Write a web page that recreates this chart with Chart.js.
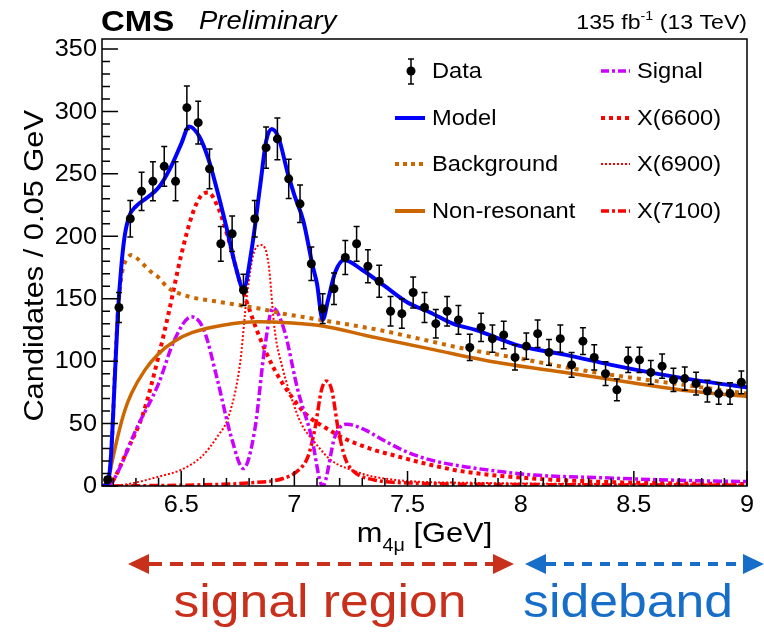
<!DOCTYPE html>
<html>
<head>
<meta charset="utf-8">
<script src="https://cdn.jsdelivr.net/npm/chart.js@4.4.1/dist/chart.umd.min.js"></script>
<style>
  html, body { margin: 0; padding: 0; background: #fff; }
  canvas { display: block; }
</style>
</head>
<body>
<canvas id="c" width="764" height="633"></canvas>
<script>
// four-muon invariant mass, 0.05 GeV bins
const binCenters = [6.175, 6.225, 6.275, 6.325, 6.375, 6.425, 6.475, 6.525, 6.575, 6.625,
  6.675, 6.725, 6.775, 6.825, 6.875, 6.925, 6.975, 7.025, 7.075, 7.125,
  7.175, 7.225, 7.275, 7.325, 7.375, 7.425, 7.475, 7.525, 7.575, 7.625,
  7.675, 7.725, 7.775, 7.825, 7.875, 7.925, 7.975, 8.025, 8.075, 8.125,
  8.175, 8.225, 8.275, 8.325, 8.375, 8.425, 8.475, 8.525, 8.575, 8.625,
  8.675, 8.725, 8.775, 8.825, 8.875, 8.925, 8.975];
const counts = [5, 143, 214, 236, 244, 256, 244, 303, 291, 254,
  194, 202, 157, 214, 271, 278, 246, 226, 178, 142,
  158, 183, 194, 176, 164, 140, 138, 155, 143, 130,
  140, 133, 111, 127, 118, 121, 103, 112, 122, 107,
  118, 97, 116, 103, 90, 77, 101, 101, 91, 96,
  85, 86, 82, 76, 74, 74, 83];

// fit curves
const modelMass = [6.15, 6.175, 6.19, 6.205, 6.22, 6.235, 6.25, 6.27, 6.30, 6.35, 6.40, 6.45, 6.50, 6.535,
  6.58, 6.62, 6.66, 6.70, 6.74, 6.775, 6.81, 6.85, 6.875, 6.90, 6.93, 6.97, 7.00, 7.04, 7.08, 7.10,
  7.125, 7.15, 7.18, 7.22, 7.30, 7.40, 7.50, 7.60, 7.70, 7.80, 8.00, 8.20, 8.40, 8.60, 8.80, 9.00];
const modelCount = [0, 2, 25, 80, 138, 175, 200, 216, 224, 231, 239, 254, 274, 288,
  280, 262, 236, 207, 176, 158, 188, 242, 276, 286, 279, 251, 233, 212, 177, 162,
  133, 150, 171, 181, 173, 160, 147, 139, 130, 125, 112, 105, 97, 90, 84, 79];

const bkgMass = [6.16, 6.18, 6.195, 6.21, 6.225, 6.24, 6.26, 6.28, 6.30, 6.33, 6.37, 6.40, 6.44, 6.48,
  6.55, 6.65, 6.75, 6.85, 6.95, 7.05, 7.15, 7.25, 7.40, 7.55, 7.75, 8.00, 8.20, 8.40, 8.60, 8.80, 9.00];
const bkgCount = [0, 3, 40, 105, 150, 172, 182, 185, 183, 178, 171, 167, 159, 155,
  151, 148, 145, 142, 138, 135, 132, 129, 124, 118, 110, 102, 95, 89, 84, 79, 74];

const nonResMass = [6.16, 6.18, 6.20, 6.22, 6.25, 6.28, 6.34, 6.40, 6.47, 6.55, 6.69, 6.84, 6.99,
  7.13, 7.33, 7.62, 7.91, 8.21, 8.50, 8.75, 9.00];
const nonResCount = [0, 8, 24, 40, 60, 74, 93, 106, 116, 123, 129, 131.5, 130.5,
  128, 120, 109, 98.5, 90.5, 82.5, 76, 71.7];

const signalMass = [6.17, 6.19, 6.23, 6.30, 6.40, 6.47, 6.545, 6.60, 6.66, 6.72, 6.775, 6.825, 6.87,
  6.905, 6.955, 7.015, 7.075, 7.125, 7.18, 7.23, 7.30, 7.40, 7.50, 7.62, 7.77, 8.06, 8.35, 8.65, 9.00];
const signalCount = [0, 2, 15, 45, 82, 117, 135.5, 125, 85, 40, 14, 45, 112,
  142.5, 125, 77, 40, 0, 40, 49.5, 46, 36, 27, 20, 15, 8.8, 6.7, 4.8, 3.5];

const x6600Mass = [6.17, 6.19, 6.21, 6.26, 6.33, 6.40, 6.445, 6.50, 6.55, 6.59, 6.62, 6.665, 6.71,
  6.755, 6.80, 6.84, 6.91, 6.99, 7.06, 7.13, 7.21, 7.35, 7.43, 7.60, 7.75, 8.04, 8.34, 8.65, 9.00];
const x6600Count = [0, 2, 8, 28, 57, 104, 139, 185, 218, 233, 235, 222, 197,
  166, 142, 122, 94, 71, 56, 47.5, 39, 29, 25, 17, 11.5, 6.2, 3.5, 2.2, 1.5];

const x6900Mass = [6.20, 6.28, 6.40, 6.50, 6.59, 6.66, 6.71, 6.76, 6.79, 6.825, 6.855, 6.885, 6.913,
  6.95, 6.99, 7.03, 7.09, 7.16, 7.25, 7.35, 7.50, 7.80, 8.40, 9.00];
const x6900Count = [0, 2, 7.5, 13, 23.5, 39.6, 56, 98, 152, 189, 193, 179, 125,
  93, 69, 50, 35, 21, 13, 7.5, 4, 2.5, 1.5, 1];

const x7100Mass = [6.20, 6.60, 6.80, 6.95, 7.02, 7.06, 7.09, 7.12, 7.14, 7.165, 7.195, 7.225, 7.26,
  7.35, 7.50, 8.00, 9.00];
const x7100Count = [0, 1, 2.5, 6, 13, 23.5, 45, 77, 84, 77, 44, 22, 12,
  5, 2.5, 1.2, 0.6];

// axes
const xMin = 6.15, xMax = 9.0, yMin = 0, yMax = 358;
const xTicks = [6.5, 7, 7.5, 8, 8.5, 9];
const xTickLabels = ['6.5', '7', '7.5', '8', '8.5', '9'];
const yTicks = [0, 50, 100, 150, 200, 250, 300, 350];
const yTickLabels = ['0', '50', '100', '150', '200', '250', '300', '350'];

const FONT = '"Liberation Sans", Arial, Helvetica, sans-serif';
const STRETCH = 1.1;
const BLUE = '#0000ff', ORANGE = '#cc6600', VIOLET = '#cc00ff', RED = '#ff0000';
const REGION_RED = '#c9301c', REGION_BLUE = '#176ec8';

function pts(xs, ys) {
  return xs.map((x, i) => ({ x: x, y: ys[i] }));
}

function curve(label, xs, ys, color, width, dash) {
  return {
    label: label,
    data: pts(xs, ys),
    borderColor: color,
    borderWidth: width,
    borderDash: dash,
    borderCapStyle: 'butt',
    pointRadius: 0,
    fill: false,
    cubicInterpolationMode: 'monotone',
    showLine: true
  };
}

// text is drawn slightly wide, like the ROOT output
function label(ctx, str, x, y, size, opts) {
  opts = opts || {};
  ctx.save();
  ctx.font = (opts.style || '') + ' ' + size + 'px ' + FONT;
  ctx.fillStyle = opts.color || '#000';
  ctx.textBaseline = opts.baseline || 'alphabetic';
  ctx.textAlign = opts.align || 'left';
  ctx.translate(x, y);
  ctx.scale(STRETCH, 1);
  ctx.fillText(str, 0, 0);
  ctx.restore();
}

function width(ctx, str, size, style) {
  ctx.save();
  ctx.font = (style || '') + ' ' + size + 'px ' + FONT;
  const w = ctx.measureText(str).width * STRETCH;
  ctx.restore();
  return w;
}

function sample(ctx, x1, x2, y, color, w, dash) {
  ctx.save();
  ctx.strokeStyle = color;
  ctx.lineWidth = w;
  ctx.setLineDash(dash || []);
  ctx.beginPath();
  ctx.moveTo(x1, y);
  ctx.lineTo(x2, y);
  ctx.stroke();
  ctx.restore();
}

function arrow(ctx, x1, x2, y, color, dash) {
  const head = 21, half = 10;
  ctx.save();
  ctx.strokeStyle = color;
  ctx.fillStyle = color;
  ctx.lineWidth = 4;
  ctx.setLineDash(dash);
  ctx.beginPath();
  ctx.moveTo(x1 + head, y);
  ctx.lineTo(x2 - head, y);
  ctx.stroke();
  ctx.setLineDash([]);
  ctx.beginPath();
  ctx.moveTo(x1, y); ctx.lineTo(x1 + head, y - half); ctx.lineTo(x1 + head, y + half);
  ctx.closePath(); ctx.fill();
  ctx.beginPath();
  ctx.moveTo(x2, y); ctx.lineTo(x2 - head, y - half); ctx.lineTo(x2 - head, y + half);
  ctx.closePath(); ctx.fill();
  ctx.restore();
}

const errorBars = {
  id: 'errorBars',
  beforeDatasetDraw(chart, args) {
    if (args.index !== 0) return;
    const ctx = chart.ctx, xs = chart.scales.x, ys = chart.scales.y;
    ctx.save();
    ctx.strokeStyle = '#000';
    ctx.lineWidth = 1.5;
    binCenters.forEach((m, i) => {
      const v = counts[i], e = Math.sqrt(v);
      const px = xs.getPixelForValue(m);
      const top = ys.getPixelForValue(v + e);
      const bot = ys.getPixelForValue(Math.max(0, v - e));
      ctx.beginPath();
      ctx.moveTo(px, top); ctx.lineTo(px, bot);
      ctx.moveTo(px - 3, top); ctx.lineTo(px + 3, top);
      ctx.moveTo(px - 3, bot); ctx.lineTo(px + 3, bot);
      ctx.stroke();
    });
    ctx.restore();
  }
};

const frame = {
  id: 'frame',
  afterDatasetsDraw(chart) {
    const ctx = chart.ctx, a = chart.chartArea, xs = chart.scales.x, ys = chart.scales.y;
    ctx.save();
    ctx.strokeStyle = '#000';
    ctx.lineWidth = 1.5;
    ctx.strokeRect(a.left, a.top, a.right - a.left, a.bottom - a.top);
    ctx.beginPath();
    // y ticks point inward
    for (let v = 0; v <= 350; v += 10) {
      const py = ys.getPixelForValue(v);
      const len = v % 50 === 0 ? 16 : 8;
      ctx.moveTo(a.left, py); ctx.lineTo(a.left + len, py);
    }
    // x ticks point inward
    for (let k = 62; k <= 90; k++) {
      const m = k / 10;
      const px = xs.getPixelForValue(m);
      const len = k % 5 === 0 ? 15 : 8;
      ctx.moveTo(px, a.bottom); ctx.lineTo(px, a.bottom - len);
    }
    ctx.stroke();
    ctx.restore();

    yTicks.forEach((v, i) => {
      label(ctx, yTickLabels[i], a.left - 5, ys.getPixelForValue(v) + 1, 23,
        { align: 'right', baseline: 'middle' });
    });
    xTicks.forEach((m, i) => {
      label(ctx, xTickLabels[i], xs.getPixelForValue(m), a.bottom + 20, 23,
        { align: 'center', baseline: 'middle' });
    });
  }
};

const decor = {
  id: 'decor',
  afterDraw(chart) {
    const ctx = chart.ctx, a = chart.chartArea;

    // header
    label(ctx, 'CMS', a.left - 1, 31, 30, { style: 'bold' });
    label(ctx, 'Preliminary', 199, 29, 25, { style: 'italic' });
    const tail = ' (13 TeV)', lead = '135 fb', sup = '-1';
    const wTail = width(ctx, tail, 21), wSup = width(ctx, sup, 13), wLead = width(ctx, lead, 21);
    const xr = a.right;
    label(ctx, tail, xr - wTail, 29, 21);
    label(ctx, sup, xr - wTail - wSup, 20, 13);
    label(ctx, lead, xr - wTail - wSup - wLead, 29, 21);

    // y axis title
    ctx.save();
    ctx.translate(43, 110);
    ctx.rotate(-Math.PI / 2);
    ctx.scale(STRETCH, 1);
    ctx.font = '28px ' + FONT;
    ctx.fillStyle = '#000';
    ctx.textAlign = 'right';
    ctx.fillText('Candidates / 0.05 GeV', 0, 0);
    ctx.restore();

    // x axis title with subscript
    const wm = width(ctx, 'm', 28), wsub = width(ctx, '4\u03bc', 18), wrest = width(ctx, ' [GeV]', 28);
    const x0 = (a.left + a.right) / 2 - (wm + wsub + wrest) / 2;
    label(ctx, 'm', x0, 542, 28);
    label(ctx, '4\u03bc', x0 + wm, 551, 18);
    label(ctx, ' [GeV]', x0 + wm + wsub, 542, 28);

    // legend
    const rows = [72, 119, 165, 212];
    const c1 = [395, 425, 432], c2 = [601, 630, 637];
    ctx.save();
    ctx.strokeStyle = '#000'; ctx.lineWidth = 1.5; ctx.fillStyle = '#000';
    ctx.beginPath();
    ctx.moveTo(411, 59); ctx.lineTo(411, 84);
    ctx.moveTo(408, 59); ctx.lineTo(414, 59);
    ctx.moveTo(408, 84); ctx.lineTo(414, 84);
    ctx.stroke();
    ctx.beginPath(); ctx.arc(411, 71, 4.5, 0, Math.PI * 2); ctx.fill();
    ctx.restore();
    sample(ctx, c1[0], c1[1], rows[1] - 1, BLUE, 4);
    sample(ctx, c1[0], c1[1], rows[2] - 1, ORANGE, 4, [4, 4]);
    sample(ctx, c1[0], c1[1], rows[3] - 1, ORANGE, 4);
    sample(ctx, c2[0], c2[1], rows[0] - 1, VIOLET, 3.5, [8, 3, 3, 3]);
    sample(ctx, c2[0], c2[1], rows[1] - 1, RED, 4, [4, 4]);
    sample(ctx, c2[0], c2[1], rows[2] - 1, RED, 2, [2, 2]);
    sample(ctx, c2[0], c2[1], rows[3] - 1, RED, 3.5, [8, 3, 3, 3]);
    const names1 = ['Data', 'Model', 'Background', 'Non-resonant'];
    const names2 = ['Signal', 'X(6600)', 'X(6900)', 'X(7100)'];
    rows.forEach((y, i) => {
      label(ctx, names1[i], c1[2], y, 21.5, { baseline: 'middle' });
      label(ctx, names2[i], c2[2], y, 21.5, { baseline: 'middle' });
    });

    // mass regions below the axis
    arrow(ctx, 128, 514, 564, REGION_RED, [13, 8]);
    arrow(ctx, 525, 764, 564, REGION_BLUE, [10, 8]);
    label(ctx, 'signal region', 320, 617, 47, { align: 'center', color: REGION_RED });
    label(ctx, 'sideband', 628, 617, 47, { align: 'center', color: REGION_BLUE });
  }
};

new Chart(document.getElementById('c').getContext('2d'), {
  type: 'line',
  data: {
    datasets: [
      {
        label: 'Data',
        data: pts(binCenters, counts),
        showLine: false,
        pointRadius: 4.5,
        pointBackgroundColor: '#000',
        pointBorderWidth: 0
      },
      curve('Model', modelMass, modelCount, BLUE, 4, []),
      curve('Background', bkgMass, bkgCount, ORANGE, 4, [4, 5]),
      curve('Non-resonant', nonResMass, nonResCount, ORANGE, 3.5, []),
      curve('Signal', signalMass, signalCount, VIOLET, 3.5, [9, 3, 3, 3]),
      curve('X(6600)', x6600Mass, x6600Count, RED, 4, [4, 4]),
      curve('X(6900)', x6900Mass, x6900Count, RED, 2, [2, 2]),
      curve('X(7100)', x7100Mass, x7100Count, RED, 3.5, [9, 3, 3, 3])
    ]
  },
  options: {
    responsive: false,
    animation: false,
    devicePixelRatio: 1,
    layout: { padding: { top: 39, right: 17, left: 0, bottom: 0 } },
    plugins: { legend: { display: false }, tooltip: { enabled: false } },
    scales: {
      x: {
        type: 'linear', min: xMin, max: xMax,
        grid: { display: false }, border: { display: false },
        ticks: { display: false },
        afterFit: s => { s.height = 147; }
      },
      y: {
        min: yMin, max: yMax,
        grid: { display: false }, border: { display: false },
        ticks: { display: false },
        afterFit: s => { s.width = 102; }
      }
    }
  },
  plugins: [errorBars, frame, decor]
});
</script>
</body>
</html>
